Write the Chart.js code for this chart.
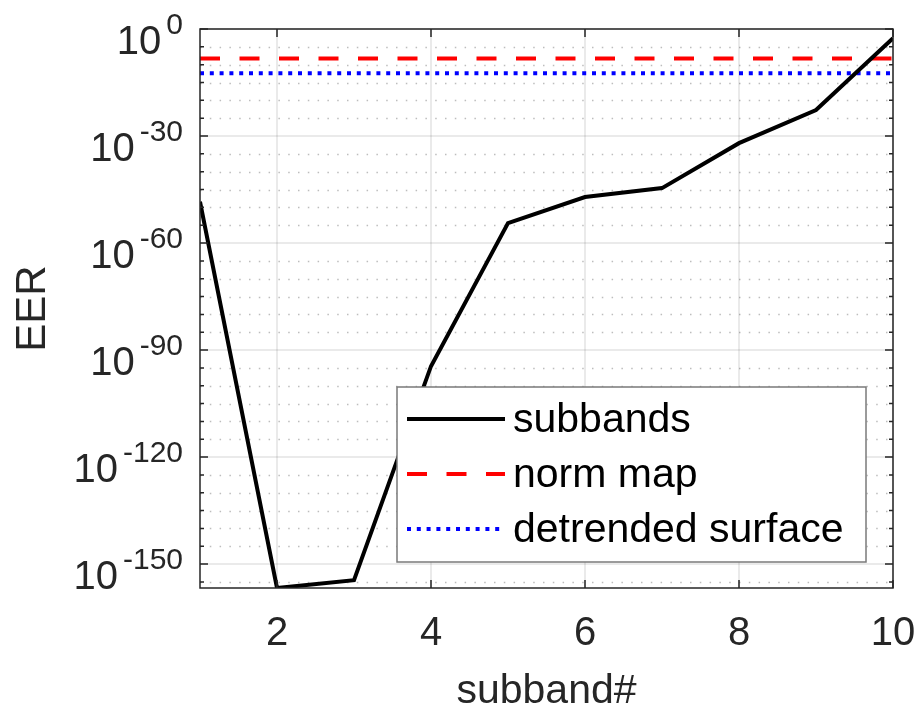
<!DOCTYPE html>
<html>
<head>
<meta charset="utf-8">
<script src="https://cdn.jsdelivr.net/npm/chart.js@4.4.1/dist/chart.umd.min.js"></script>
<style>
  html, body { margin: 0; padding: 0; background: #fff; }
  #wrap { width: 916px; height: 708px; }
</style>
</head>
<body>
<div id="wrap"><canvas id="c" width="916" height="708"></canvas></div>
<script>
const subbands = [1, 2, 3, 4, 5, 6, 7, 8, 9, 10];
const eerSubbands = [4e-49, 2e-157, 3e-155, 3e-95, 4e-55, 8e-48, 2.5e-45, 1e-32, 2e-23, 2.5e-3];
const eerNormMap = 5e-9;
const eerDetrended = 4e-13;
const xTicks = [2, 4, 6, 8, 10];
const yTickExponents = [0, -30, -60, -90, -120, -150];
const yMinorExponents = [0, -5, -10, -15, -20, -25, -30, -35, -40, -45, -50, -55, -60, -65, -70, -75,
  -80, -85, -90, -95, -100, -105, -110, -115, -120, -125, -130, -135, -140, -145, -150, -155];
const seriesNames = ["subbands", "norm map", "detrended surface"];

const FONT = "'Liberation Sans', Arial, Helvetica, sans-serif";
const AXIS_COLOR = "#262626";

const xFirst = subbands[0];
const xLast = subbands[subbands.length - 1];

const matlabAxes = {
  id: "matlabAxes",
  beforeDatasetsDraw(chart) {
    const { ctx, chartArea: a, scales: { x, y } } = chart;
    ctx.save();
    // minor dotted grid
    ctx.strokeStyle = "rgba(38,38,38,0.3)";
    ctx.lineWidth = 1.5;
    ctx.setLineDash([1.5, 8.3]);
    yMinorExponents.forEach((e) => {
      if (yTickExponents.includes(e)) return;
      const py = Math.round(y.getPixelForValue(Math.pow(10, e))) + 0.5;
      ctx.beginPath();
      ctx.moveTo(a.left, py);
      ctx.lineTo(a.right, py);
      ctx.stroke();
    });
    // major grid
    ctx.setLineDash([]);
    ctx.strokeStyle = "rgba(38,38,38,0.13)";
    ctx.lineWidth = 1.5;
    yTickExponents.forEach((e) => {
      const py = y.getPixelForValue(Math.pow(10, e));
      ctx.beginPath();
      ctx.moveTo(a.left, py);
      ctx.lineTo(a.right, py);
      ctx.stroke();
    });
    xTicks.forEach((v) => {
      const px = x.getPixelForValue(v);
      ctx.beginPath();
      ctx.moveTo(px, a.top);
      ctx.lineTo(px, a.bottom);
      ctx.stroke();
    });
    ctx.restore();
  },
  afterDatasetsDraw(chart) {
    const { ctx, chartArea: a, scales: { x, y } } = chart;
    ctx.save();
    // box + inward ticks
    ctx.strokeStyle = AXIS_COLOR;
    ctx.lineWidth = 1.5;
    ctx.strokeRect(a.left, a.top, a.right - a.left, a.bottom - a.top);
    yMinorExponents.forEach((e) => {
      const py = y.getPixelForValue(Math.pow(10, e));
      const len = yTickExponents.includes(e) ? 8 : 4;
      ctx.beginPath();
      ctx.moveTo(a.left, py);
      ctx.lineTo(a.left + len, py);
      ctx.moveTo(a.right, py);
      ctx.lineTo(a.right - len, py);
      ctx.stroke();
    });
    xTicks.forEach((v) => {
      const px = x.getPixelForValue(v);
      ctx.beginPath();
      ctx.moveTo(px, a.top);
      ctx.lineTo(px, a.top + 8);
      ctx.moveTo(px, a.bottom);
      ctx.lineTo(px, a.bottom - 8);
      ctx.stroke();
    });

    // y tick labels with superscripts
    ctx.fillStyle = AXIS_COLOR;
    ctx.textAlign = "right";
    ctx.textBaseline = "alphabetic";
    const rightEdge = a.left - 17;
    yTickExponents.forEach((e) => {
      const py = y.getPixelForValue(Math.pow(10, e));
      const sup = String(e);
      ctx.font = "30px " + FONT;
      const supW = ctx.measureText(sup).width;
      ctx.fillText(sup, rightEdge, py + 5);
      ctx.font = "40px " + FONT;
      ctx.fillText("10", rightEdge - supW - 5, py + 25);
    });

    // legend
    const lx = a.right - 496, ly = a.bottom - 201, lw = 469, lh = 175;
    ctx.fillStyle = "#fff";
    ctx.fillRect(lx, ly, lw, lh);
    ctx.strokeStyle = "#7a7a7a";
    ctx.lineWidth = 1.5;
    ctx.strokeRect(lx, ly, lw, lh);
    chart.data.datasets.forEach((ds, i) => {
      const ry = ly + 32 + i * 55;
      ctx.strokeStyle = ds.borderColor;
      ctx.lineWidth = ds.borderWidth;
      ctx.setLineDash(ds.borderDash || []);
      ctx.beginPath();
      ctx.moveTo(lx + 10, ry);
      ctx.lineTo(lx + 108, ry);
      ctx.stroke();
      ctx.setLineDash([]);
      ctx.fillStyle = "#000";
      ctx.font = "41px " + FONT;
      ctx.textAlign = "left";
      ctx.textBaseline = "middle";
      ctx.fillText(ds.label, lx + 116, ry + 2);
    });
    ctx.restore();
  },
};

new Chart(document.getElementById("c"), {
  type: "line",
  data: {
    datasets: [
      {
        label: seriesNames[0],
        data: subbands.map((s, i) => ({ x: s, y: eerSubbands[i] })),
        borderColor: "#000000",
        borderWidth: 4,
      },
      {
        label: seriesNames[1],
        data: [{ x: xFirst, y: eerNormMap }, { x: xLast, y: eerNormMap }],
        borderColor: "#ff0000",
        borderWidth: 4,
        borderDash: [20, 19.5],
      },
      {
        label: seriesNames[2],
        data: [{ x: xFirst, y: eerDetrended }, { x: xLast, y: eerDetrended }],
        borderColor: "#0000ff",
        borderWidth: 4,
        borderDash: [4, 5.8],
      },
    ],
  },
  options: {
    responsive: false,
    animation: false,
    devicePixelRatio: 1,
    layout: { padding: { top: 29, right: 23, bottom: 0, left: 0 } },
    elements: { point: { radius: 0 }, line: { tension: 0, borderCapStyle: "butt" } },
    plugins: { legend: { display: false }, tooltip: { enabled: false } },
    scales: {
      x: {
        type: "linear",
        min: xFirst,
        max: xLast,
        afterBuildTicks: (scale) => {
          scale.ticks = xTicks.map((v) => ({ value: v }));
        },
        afterFit: (scale) => {
          scale.height = 120;
          scale.paddingLeft = 0;
          scale.paddingRight = 0;
        },
        grid: { display: false, drawTicks: false },
        border: { display: false },
        ticks: {
          color: AXIS_COLOR,
          font: { family: FONT, size: 40 },
          padding: 22,
          maxRotation: 0,
          autoSkip: false,
        },
        title: {
          display: true,
          text: "subband#",
          color: AXIS_COLOR,
          font: { family: FONT, size: 41, lineHeight: 0.8 },
          padding: { top: 0, bottom: 0 },
        },
      },
      y: {
        type: "logarithmic",
        min: 2e-157,
        max: 1,
        afterBuildTicks: (scale) => {
          scale.ticks = yTickExponents.map((e) => ({ value: Math.pow(10, e) }));
        },
        afterFit: (scale) => {
          scale.width = 200;
        },
        grid: { display: false, drawTicks: false },
        border: { display: false },
        ticks: { display: false },
        title: {
          display: true,
          text: "EER",
          color: AXIS_COLOR,
          font: { family: FONT, size: 42 },
          padding: { top: 8, bottom: 0 },
        },
      },
    },
  },
  plugins: [matlabAxes],
});
</script>
</body>
</html>
